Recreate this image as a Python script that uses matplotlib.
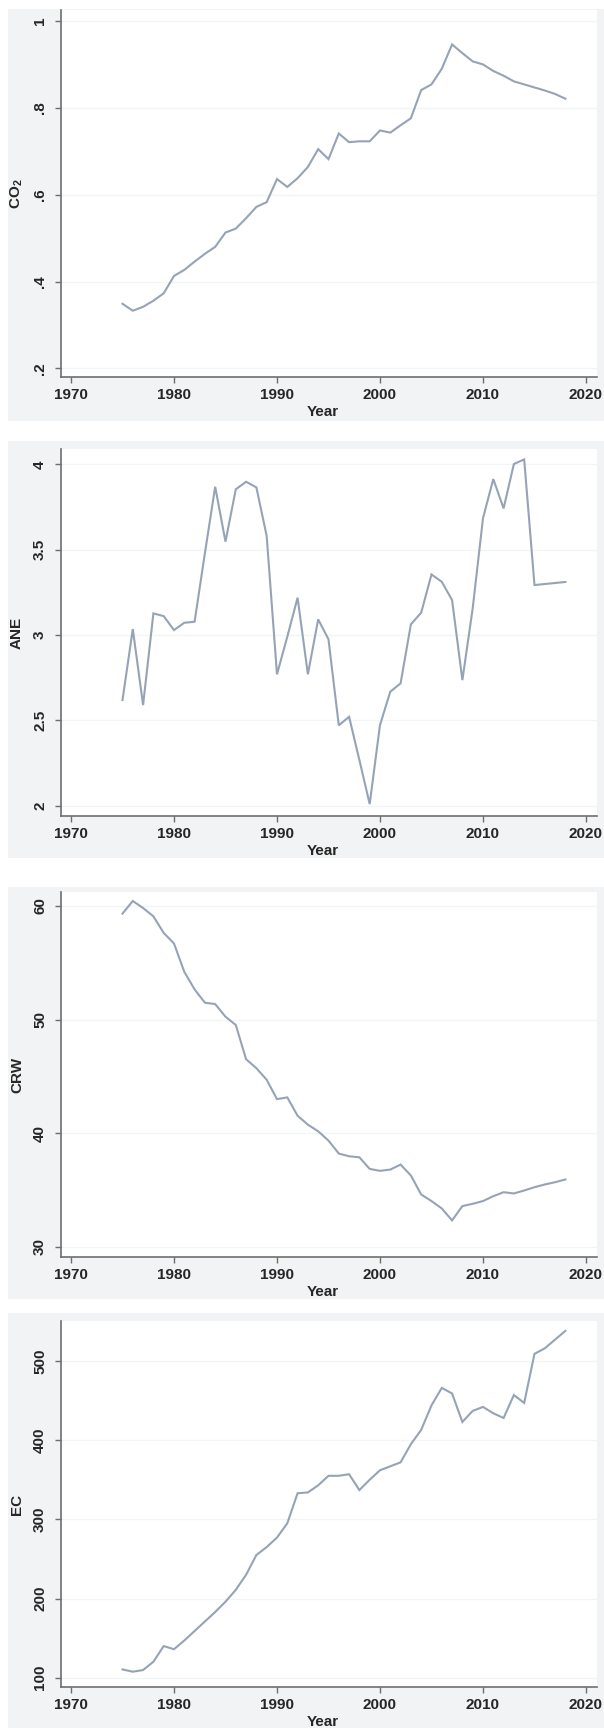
import matplotlib
matplotlib.use("Agg")
import matplotlib.pyplot as plt
from matplotlib.patches import Rectangle
import numpy as np

years = list(range(1975, 2019))

co2 = [0.349, 0.333, 0.342, 0.356, 0.373, 0.413, 0.427, 0.446, 0.464, 0.480,
       0.513, 0.522, 0.546, 0.572, 0.583, 0.636, 0.618, 0.638, 0.664, 0.705,
       0.682, 0.741, 0.721, 0.723, 0.723, 0.748, 0.743, 0.760, 0.776, 0.841,
       0.854, 0.890, 0.946, 0.926, 0.907, 0.900, 0.885, 0.874, 0.861, 0.854,
       0.847, 0.840, 0.832, 0.821]

ane = [2.619, 3.035, 2.590, 3.127, 3.111, 3.029, 3.072, 3.078, 3.479, 3.869,
       3.547, 3.854, 3.898, 3.865, 3.580, 2.770, 2.990, 3.219, 2.770, 3.092,
       2.975, 2.471, 2.521, 2.268, 2.010, 2.473, 2.668, 2.717, 3.063, 3.131,
       3.355, 3.312, 3.205, 2.736, 3.156, 3.684, 3.914, 3.742, 4.002, 4.029,
       3.293, 3.299, 3.305, 3.311]

crw = [59.33, 60.44, 59.82, 59.09, 57.63, 56.70, 54.21, 52.66, 51.49, 51.37,
       50.26, 49.53, 46.52, 45.73, 44.71, 43.01, 43.16, 41.55, 40.76, 40.18,
       39.36, 38.22, 37.98, 37.89, 36.87, 36.70, 36.81, 37.25, 36.29, 34.62,
       34.04, 33.39, 32.34, 33.60, 33.80, 34.04, 34.47, 34.82, 34.71, 34.97,
       35.26, 35.50, 35.70, 35.94]

ec = [110.5, 107.6, 109.7, 120.2, 140.0, 136.0, 147.0, 159.0, 171.0, 183.0,
      196.0, 211.0, 230.0, 255.0, 265.0, 277.0, 295.0, 333.0, 334.0, 343.0,
      355.0, 355.0, 357.0, 337.0, 350.0, 362.0, 367.0, 372.0, 395.0, 413.0,
      444.0, 466.0, 459.0, 423.0, 437.0, 442.0, 434.0, 428.0, 457.0, 447.0,
      509.0, 516.0, 527.0, 538.0]

x_ticks = [1970, 1980, 1990, 2000, 2010, 2020]

co2_ticks = [0.2, 0.4, 0.6, 0.8, 1.0]
co2_ticklabels = [".2", ".4", ".6", ".8", "1"]
ane_ticks = [2, 2.5, 3, 3.5, 4]
ane_ticklabels = ["2", "2.5", "3", "3.5", "4"]
crw_ticks = [30, 40, 50, 60]
crw_ticklabels = ["30", "40", "50", "60"]
ec_ticks = [100, 200, 300, 400, 500]
ec_ticklabels = ["100", "200", "300", "400", "500"]

W, H = 604, 1728
fig = plt.figure(figsize=(W / 100, H / 100), dpi=100)
fig.patch.set_facecolor("white")

FONT = "Liberation Sans"
REGION = "#f1f3f4"
AXCOL = "#6e6e6e"
LINE = "#96a3b6"
GRID = "#f2f5f6"
FS = 11

# (series, ylabel, ticks, ticklabels, ylim, region top/bottom px, axes top/bottom px)
panels = [
    (co2, r"CO$_\mathregular{2}$", co2_ticks, co2_ticklabels, (0.1804, 1.0253), (9, 421), (10, 377)),
    (ane, "ANE", ane_ticks, ane_ticklabels, (1.940, 4.090), (441, 858), (449, 816)),
    (crw, "CRW", crw_ticks, crw_ticklabels, (29.12, 61.23), (887, 1299), (892, 1257)),
    (ec, "EC", ec_ticks, ec_ticklabels, (88.3, 550.5), (1313, 1740), (1321, 1687)),
]

AX_L, AX_R = 61, 597
XLIM = (1969.03, 2021.07)

for series, ylab, yt, ytl, ylim, (rt, rb), (at, ab) in panels:
    # light grey graph region behind each panel
    fig.patches.append(Rectangle((8 / W, 1 - rb / H), (W - 8) / W, (rb - rt) / H,
                                 transform=fig.transFigure, facecolor=REGION,
                                 edgecolor="none", zorder=-10))
    ax = fig.add_axes([AX_L / W, 1 - ab / H, (AX_R - AX_L) / W, (ab - at) / H])
    ax.set_zorder(1)
    ax.set_facecolor("white")
    ax.plot(years, series, color=LINE, lw=1.5, solid_joinstyle="miter", zorder=3)
    ax.set_xlim(*XLIM)
    ax.set_ylim(*ylim)
    ax.set_xticks(x_ticks)
    ax.set_xticklabels([str(v) for v in x_ticks])
    ax.set_yticks(yt)
    ax.set_yticklabels(ytl)
    for s in ["top", "right"]:
        ax.spines[s].set_visible(False)
    for s in ["left", "bottom"]:
        ax.spines[s].set_color(AXCOL)
        ax.spines[s].set_linewidth(1.2)
    ax.grid(axis="y", color=GRID, lw=1.0, zorder=1)
    ax.grid(axis="x", visible=False)
    ax.tick_params(axis="both", direction="out", length=4, width=1.0, color=AXCOL,
                   labelsize=FS, labelcolor="#262626")
    ax.tick_params(axis="x", pad=4)
    ax.tick_params(axis="y", pad=6)
    for lab in ax.get_xticklabels():
        lab.set_fontfamily(FONT)
        lab.set_fontweight("bold")
    for lab in ax.get_yticklabels():
        lab.set_fontfamily(FONT)
        lab.set_fontweight("bold")
        lab.set_rotation(90)
        lab.set_va("center")
        lab.set_ha("right")
    ax.set_xlabel("Year", fontfamily=FONT, fontweight="bold", fontsize=FS,
                  color="#262626", va="center")
    ax.xaxis.set_label_coords((323 - AX_L) / (AX_R - AX_L), -35 / (ab - at))
    ax.set_ylabel(ylab, fontfamily=FONT, fontweight="bold", fontsize=FS,
                  color="#262626", va="center")
    ax.yaxis.set_label_coords((17 - AX_L) / (AX_R - AX_L), 0.5)

fig.savefig("out.png", dpi=100, facecolor="white")
